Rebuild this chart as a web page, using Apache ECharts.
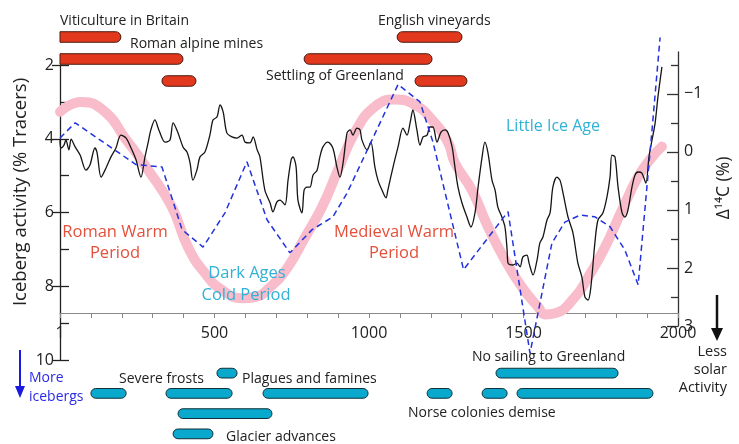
<!DOCTYPE html>
<html>
<head>
<meta charset="utf-8">
<script src="https://cdn.jsdelivr.net/npm/echarts@6.0.0/dist/echarts.min.js"></script>
<style>
html, body { margin: 0; padding: 0; background: #fff; }
#chart { width: 739px; height: 444px; }
</style>
</head>
<body>
<div id="chart"></div>
<script>
// iceberg activity (% tracers) - black line, left axis
var icebergYears = [0, 3, 13, 19, 29, 36, 49, 65, 84, 97, 113, 120, 133, 149, 165, 181, 197, 214, 230, 246,
  262, 275, 285, 294, 307, 320, 340, 356, 366, 382, 398, 411, 421, 430, 443, 453, 469, 485, 495, 508,
  518, 528, 540, 557, 573, 589, 599, 615, 625, 638, 647, 663, 680, 689, 702, 712, 728, 738, 748, 754,
  764, 770, 783, 790, 799, 809, 819, 832, 841, 851, 867, 883, 896, 906, 916, 929, 939, 948, 961, 971,
  977, 994, 1006, 1019, 1029, 1042, 1055, 1061, 1078, 1094, 1110, 1123, 1133, 1142, 1155, 1165, 1175, 1188, 1197, 1207,
  1220, 1233, 1246, 1256, 1269, 1278, 1288, 1301, 1317, 1330, 1343, 1353, 1366, 1375, 1385, 1398, 1408, 1417, 1430, 1440,
  1447, 1450, 1466, 1479, 1489, 1498, 1511, 1518, 1531, 1544, 1553, 1563, 1576, 1586, 1595, 1608, 1618, 1628, 1644, 1660,
  1676, 1689, 1699, 1709, 1718, 1731, 1741, 1757, 1770, 1780, 1786, 1796, 1806, 1819, 1828, 1838, 1851, 1861, 1871, 1883,
  1896, 1906, 1916, 1926, 1935, 1948];
var icebergValues = [4.03, 4.25, 4.17, 4.03, 4.30, 4.01, 4.22, 4.44, 4.85, 4.71, 4.25, 4.38, 5.04, 4.79, 4.49, 4.25, 3.90, 3.98, 4.25, 4.57,
  5.04, 4.49, 4.11, 3.76, 3.49, 3.76, 4.09, 4.03, 3.57, 3.84, 4.22, 4.36, 4.66, 5.12, 4.85, 4.49, 4.36, 3.90, 3.49, 3.41,
  3.08, 3.27, 3.84, 3.95, 3.98, 3.90, 4.09, 4.11, 3.95, 4.30, 4.49, 5.39, 5.74, 5.98, 5.71, 5.66, 5.79, 5.12, 4.57, 4.49,
  4.76, 5.66, 6.01, 5.39, 5.31, 5.31, 4.98, 4.85, 4.49, 4.22, 4.09, 4.25, 4.76, 5.04, 4.66, 3.84, 3.76, 3.90, 3.71, 3.76,
  4.03, 4.30, 4.09, 4.76, 5.12, 5.39, 5.60, 5.39, 4.76, 4.22, 3.71, 3.90, 3.57, 3.22, 3.76, 4.17, 3.95, 3.90, 3.68, 3.68,
  4.09, 3.82, 3.76, 3.84, 4.22, 4.76, 5.31, 5.74, 6.12, 6.39, 6.01, 5.31, 4.49, 4.09, 4.38, 5.12, 5.39, 5.85, 6.12, 6.39,
  7.01, 7.37, 7.42, 7.37, 7.47, 7.20, 7.15, 7.37, 7.69, 7.28, 6.82, 6.66, 6.20, 6.01, 5.31, 5.04, 5.12, 5.47, 6.12, 6.55,
  7.37, 7.75, 8.29, 8.37, 8.02, 6.82, 6.20, 6.01, 5.58, 5.04, 4.44, 4.49, 5.31, 6.01, 6.12, 5.93, 5.31, 4.98, 4.90, 4.93,
  5.20, 4.49, 4.03, 3.57, 2.87, 2.05];

// delta 14C - blue dashed line, right axis
var c14Years = [0, 49, 246, 330, 395, 463, 534, 605, 670, 744, 816, 883, 929, 1094, 1165, 1207, 1306, 1450, 1521,
  1592, 1634, 1683, 1731, 1780, 1828, 1871, 1916, 1942];
var c14Values = [-0.24, -0.50, 0.22, 0.26, 1.34, 1.64, 1.05, 0.17, 1.17, 1.74, 1.34, 1.12, 0.71, -1.16, -0.86, -0.17, 2.03, 1.03, 3.47,
  1.57, 1.21, 1.09, 1.12, 1.29, 1.69, 2.29, -0.38, -1.97];

// smoothed solar trend - pink band, right axis
var trendYears = [0, 68, 146, 210, 285, 362, 414, 469, 524, 589, 631, 680, 738, 793, 848, 900, 955, 1019, 1084, 1149,
  1204, 1256, 1278, 1333, 1385, 1440, 1495, 1547, 1570, 1602, 1667, 1709, 1764, 1819, 1871, 1916, 1948];
var trendValues = [-0.69, -0.86, -0.69, -0.24, 0.31, 0.95, 1.64, 2.09, 2.38, 2.52, 2.50, 2.33, 1.98, 1.47, 0.95, 0.31, -0.34, -0.78, -0.90, -0.81,
  -0.55, -0.16, 0.19, 0.66, 1.29, 1.86, 2.33, 2.67, 2.80, 2.78, 2.50, 2.16, 1.64, 1.00, 0.43, 0.09, -0.09];

// warm-period events [lane, from, to]
var warmEvents = [
  [0, -100, 197],
  [1, -100, 398],
  [2, 330, 440],
  [1, 790, 1204],
  [0, 1091, 1301],
  [2, 1149, 1317]
];
// cold-period events [lane, from, to]
var coldEvents = [
  [0, 508, 573],
  [0, 1411, 1806],
  [1, 100, 214],
  [1, 343, 557],
  [1, 657, 997],
  [1, 1188, 1269],
  [1, 1366, 1447],
  [1, 1479, 1919],
  [2, 382, 686],
  [3, 366, 495]
];

var yearTicks = [0, 100, 200, 300, 400, 500, 600, 700, 800, 900, 1000, 1100, 1200, 1300, 1400, 1500, 1600, 1700, 1800, 1900, 2000];
var yearLabels = [0, 500, 1000, 1500, 2000];
var c14Major = [-1, 0, 1, 2, 3];
var c14Minor = [-1.5, -0.5, 0.5, 1.5, 2.5];

function zip(xs, ys) {
  return xs.map(function (x, i) { return [x, ys[i]]; });
}

function eventBar(fill, stroke) {
  return function (params, api) {
    var lane = api.value(0);
    var a = api.coord([api.value(1), lane]);
    var b = api.coord([api.value(2), lane]);
    var h = api.size([0, 1])[1] * 0.48;
    var left = Math.max(a[0], params.coordSys.x);
    var r = h / 2;
    return {
      type: 'rect',
      shape: { x: left, y: a[1] - h / 2, width: b[0] - left, height: h, r: a[0] < left ? [0, r, r, 0] : r },
      style: { fill: fill, stroke: stroke, lineWidth: 1 }
    };
  };
}

var FONT = '"Open Sans", sans-serif';
function txt(x, y, s, size, color, align, rot) {
  return {
    type: 'text', x: x, y: y, rotation: rot || 0, silent: true, z: 100,
    style: { text: s, font: size + 'px ' + FONT, fill: color, textAlign: align || 'left', textVerticalAlign: 'middle' }
  };
}

var RED = '#e5503c';
var TEAL = '#2fb2d6';

var chart = echarts.init(document.getElementById('chart'));
chart.setOption({
  backgroundColor: '#fff',
  animation: false,
  grid: [
    { left: 60, right: 61, top: 52, height: 274 },   // data
    { left: 60, right: 61, top: 65, height: 295 },   // iceberg axis
    { left: 60, right: 61, top: 52, height: 261 },   // year axis
    { left: 60, right: 61, top: 26, height: 66 },    // warm events
    { left: 60, right: 61, top: 363, height: 89 }    // cold events
  ],
  xAxis: [
    { gridIndex: 0, type: 'value', min: 0, max: 2000, show: false },
    { gridIndex: 1, type: 'value', min: 0, max: 2000, show: false },
    {
      gridIndex: 2, type: 'value', min: 0, max: 2000, position: 'bottom',
      axisLine: { lineStyle: { color: '#888', width: 1.2 } },
      axisTick: { customValues: yearTicks, length: 5, lineStyle: { color: '#888' } },
      axisLabel: {
        customValues: yearLabels, margin: 12, fontSize: 16, color: '#222', fontFamily: FONT,
        formatter: function (v) { return v === 0 ? '1' : String(v); }
      },
      splitLine: { show: false }
    },
    { gridIndex: 3, type: 'value', min: 0, max: 2000, show: false },
    { gridIndex: 4, type: 'value', min: 0, max: 2000, show: false }
  ],
  yAxis: [
    { gridIndex: 0, type: 'value', inverse: true, min: 1.648, max: 9.073, show: false },
    {
      gridIndex: 0, type: 'value', inverse: true, min: -1.72, max: 3, position: 'right',
      axisLine: { show: true, lineStyle: { color: '#333', width: 1.3 } },
      axisTick: { show: true, inside: true, customValues: c14Major, length: 11, lineStyle: { color: '#333', width: 1.3 } },
      axisLabel: {
        customValues: c14Major, margin: 6, fontSize: 16, color: '#222', fontFamily: FONT,
        formatter: function (v) { return v < 0 ? '\u2212' + Math.abs(v) : String(v); }
      },
      splitLine: { show: false }
    },
    {
      gridIndex: 0, type: 'value', inverse: true, min: -1.72, max: 3, position: 'right',
      axisLine: { show: false },
      axisTick: { show: true, inside: true, customValues: c14Minor, length: 7, lineStyle: { color: '#333', width: 1.3 } },
      axisLabel: { show: false },
      splitLine: { show: false }
    },
    {
      gridIndex: 1, type: 'value', inverse: true, min: 2, max: 10, interval: 2, position: 'left',
      axisLine: { show: true, lineStyle: { color: '#222', width: 1.3 } },
      axisTick: { show: true, length: 8, lineStyle: { color: '#222', width: 1.3 } },
      axisLabel: { margin: 6, fontSize: 16, color: '#222', fontFamily: FONT },
      splitLine: { show: false }
    },
    {
      gridIndex: 1, type: 'value', inverse: true, min: 2, max: 10, interval: 1, position: 'left',
      axisLine: { show: false },
      axisTick: { show: true, inside: true, length: 9, lineStyle: { color: '#222', width: 1.3 } },
      axisLabel: { show: false },
      splitLine: { show: false }
    },
    { gridIndex: 2, type: 'value', show: false },
    { gridIndex: 3, type: 'value', inverse: true, min: -0.5, max: 2.5, show: false },
    { gridIndex: 4, type: 'value', inverse: true, min: -0.5, max: 3.5, show: false }
  ],
  series: [
    {
      type: 'line', xAxisIndex: 0, yAxisIndex: 1, data: zip(trendYears, trendValues),
      smooth: true, symbol: 'none', clip: false, z: 1,
      lineStyle: { color: '#f9bccb', width: 10, cap: 'round', join: 'round' }
    },
    {
      type: 'line', xAxisIndex: 0, yAxisIndex: 0, data: zip(icebergYears, icebergValues),
      smooth: 0.3, symbol: 'none', clip: false, z: 3,
      lineStyle: { color: '#151515', width: 1.3 }
    },
    {
      type: 'line', xAxisIndex: 0, yAxisIndex: 1, data: zip(c14Years, c14Values),
      symbol: 'none', clip: false, z: 4,
      lineStyle: { color: '#2232dd', width: 1.5, type: [6, 4] }
    },
    {
      type: 'custom', xAxisIndex: 3, yAxisIndex: 6, data: warmEvents,
      encode: { x: [1, 2], y: 0 }, renderItem: eventBar('#e2381e', '#4a1a10')
    },
    {
      type: 'custom', xAxisIndex: 4, yAxisIndex: 7, data: coldEvents,
      encode: { x: [1, 2], y: 0 }, renderItem: eventBar('#08a9cc', '#10303a')
    }
  ],
  graphic: [
    txt(60, 21, 'Viticulture in Britain', 14, '#222'),
    txt(130, 44, 'Roman alpine mines', 14, '#222'),
    txt(266, 76, 'Settling of Greenland', 14, '#222'),
    txt(378, 21, 'English vineyards', 14, '#222'),
    txt(506, 126, 'Little Ice Age', 16, TEAL),
    txt(115, 232, 'Roman Warm', 16.5, RED, 'center'),
    txt(115, 253, 'Period', 16.5, RED, 'center'),
    txt(394, 232, 'Medieval Warm', 16.5, RED, 'center'),
    txt(394, 253, 'Period', 16.5, RED, 'center'),
    txt(247, 273, 'Dark Ages', 16.5, TEAL, 'center'),
    txt(246, 295, 'Cold Period', 16.5, TEAL, 'center'),
    txt(119, 379, 'Severe frosts', 14, '#222'),
    txt(242, 379, 'Plagues and famines', 14, '#222'),
    txt(226, 437, 'Glacier advances', 14, '#222'),
    txt(472, 357, 'No sailing to Greenland', 14, '#222'),
    txt(408, 413, 'Norse colonies demise', 14, '#222'),
    txt(29, 378, 'More', 14, '#2a2ae8'),
    txt(29, 397, 'icebergs', 14, '#2a2ae8'),
    txt(727, 352, 'Less', 14.5, '#222', 'right'),
    txt(727, 370, 'solar', 14.5, '#222', 'right'),
    txt(727, 388, 'Activity', 14.5, '#222', 'right'),
    txt(21, 192, 'Iceberg activity (% Tracers)', 18.5, '#222', 'center', Math.PI / 2),
    txt(724, 188, '\u0394\u00b9\u2074C (%)', 17.5, '#222', 'center', Math.PI / 2),
    { type: 'line', silent: true, z: 100, shape: { x1: 20, y1: 350, x2: 20, y2: 388 }, style: { stroke: '#1a1ae0', lineWidth: 2 } },
    { type: 'polygon', silent: true, z: 100, shape: { points: [[15, 386], [25, 386], [20, 398]] }, style: { fill: '#1a1ae0' } },
    { type: 'line', silent: true, z: 100, shape: { x1: 717, y1: 295, x2: 717, y2: 330 }, style: { stroke: '#111', lineWidth: 2.5 } },
    { type: 'polygon', silent: true, z: 100, shape: { points: [[711, 328], [723, 328], [717, 341]] }, style: { fill: '#111' } }
  ]
});
</script>
</body>
</html>
